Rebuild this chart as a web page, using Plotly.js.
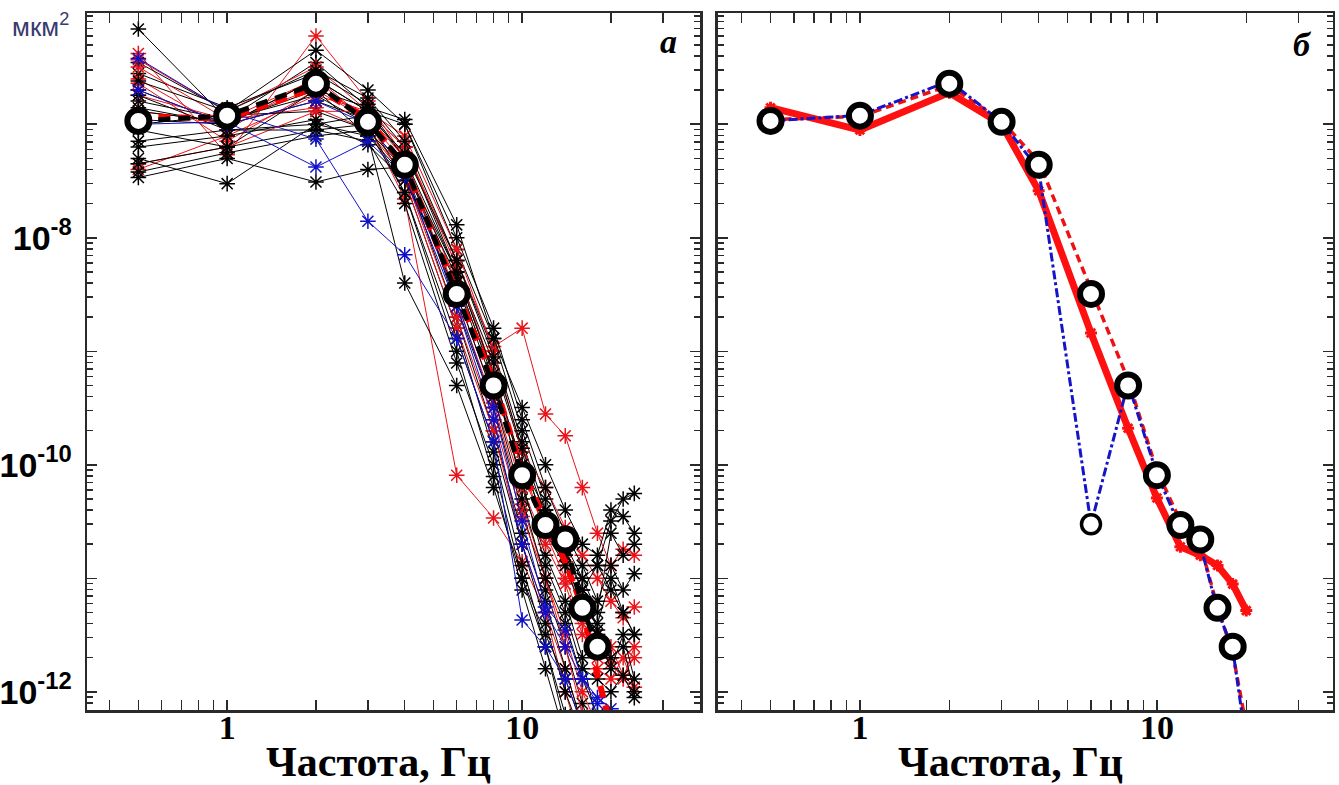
<!DOCTYPE html>
<html>
<head>
<meta charset="utf-8">
<script src="https://cdn.plot.ly/plotly-3.0.1.min.js"></script>
<style>html,body{margin:0;padding:0;background:#fff;}#chart{width:1339px;height:785px;}</style>
</head>
<body>
<div id="chart"></div>
<script>
// Frequencies, Hz
const freq = [0.5, 1, 2, 3, 4, 6, 8, 10, 12, 14, 16, 18, 20, 22, 24];

// Panel "а": individual spectra (мкм²)
const blk01 = [6.9e-7,1.1e-7,3.5e-7,1.4e-7,5.0e-8,5.0e-9,7.9e-10,1.3e-10,2.5e-11,1.3e-11,6.3e-12,4.0e-12,1.0e-11,5.0e-12,3.2e-12];
const blk02 = [3.5e-7,1.3e-7,4.5e-7,2.0e-7,1.0e-7,7.9e-9,1.3e-9,2.0e-10,5.0e-11,1.6e-11,1.0e-11,1.3e-11,3.2e-11,5.0e-11,5.6e-11];
const blk03 = [2.8e-7,1.4e-7,2.8e-7,1.5e-7,6.3e-8,5.0e-9,6.3e-10,6.3e-11,1.6e-11,6.3e-12,2.0e-12,5.0e-13];
const blk04 = [2.0e-7,1.0e-7,2.5e-7,1.3e-7,5.0e-8,2.5e-9,3.2e-10,4.0e-11,7.9e-12,2.5e-12,7.9e-13,3.2e-13];
const blk05 = [1.6e-7,1.1e-7,1.8e-7,1.0e-7,4.0e-8,2.0e-9,2.0e-10,2.5e-11,6.3e-12,1.6e-12,5.0e-13];
const blk06 = [1.4e-7,1.0e-7,1.6e-7,1.1e-7,3.2e-8,1.6e-9,1.3e-10,1.3e-11,2.5e-12,5.0e-13];
const blk07 = [1.0e-7,1.2e-7,1.3e-7,8.9e-8,2.5e-8,1.0e-9,7.9e-11,7.9e-12,1.6e-12,4.0e-13];
const blk08 = [7.1e-8,8.9e-8,1.0e-7,1.2e-7,5.6e-8,6.3e-9,1.0e-9,1.6e-10,4.0e-11,2.0e-11,1.0e-11,5.0e-12,2.5e-11,1.6e-11,2.0e-11];
const blk09 = [6.3e-8,7.9e-8,1.1e-7,6.6e-8,3.2e-8,4.0e-9,5.0e-10,1.0e-10,3.2e-11,1.3e-11,5.0e-12,3.2e-12,1.6e-12,3.2e-12,1.3e-12];
const blk10 = [5.0e-8,3.0e-8,1.0e-7,7.9e-8,3.5e-8,3.2e-9,4.0e-10,5.0e-11,1.0e-11,4.0e-12,1.3e-12,6.3e-13];
const blk11 = [3.4e-8,5.0e-8,3.1e-8,4.0e-8,4.2e-8,5.0e-9,6.3e-10,1.0e-10,4.0e-11,1.6e-11,7.9e-12,1.3e-11,7.9e-12,5.0e-12,3.2e-12];
const blk12 = [4.5e-8,6.3e-8,2.0e-7,1.4e-7,1.1e-7,1.3e-8,1.3e-9,3.2e-10,1.0e-10,4.0e-11,2.0e-11,1.6e-11,4.0e-11,3.5e-11,2.5e-11];
const blk13 = [1.1e-7,1.0e-7,2.5e-7,1.3e-7,1.0e-7,1.0e-8,1.6e-9,2.5e-10,6.3e-11,2.5e-11,1.3e-11,6.3e-12,1.3e-11,7.9e-12,1.1e-11];
const blk14 = [1.3e-7,1.05e-7,2.0e-7,7.9e-8,4.0e-9,5.0e-10,6.3e-11,1.0e-11,2.5e-12,6.3e-13];
const blk15 = [1.8e-7,8.9e-8,8.9e-8,1.0e-7,2.5e-8,1.3e-9,1.6e-10,2.0e-11,4.0e-12,1.0e-12,4.0e-13];
const blk16 = [2.4e-7,1.3e-7,3.0e-7,1.7e-7,7.1e-8,6.3e-9,8.9e-10,1.4e-10,3.5e-11,1.8e-11,7.9e-12,3.5e-12,2.0e-12,2.5e-12,1.0e-12];
const blk17 = [3.8e-8,5.6e-8,7.9e-8,8.9e-8,4.0e-8,4.5e-9,5.6e-10,7.1e-11,1.3e-11,5.0e-12,1.6e-12,1.3e-12,1.0e-12,1.4e-12,8.9e-13];
const blk18 = [8.9e-8,6.3e-8,8.9e-8,7.1e-8,2.0e-8,7.9e-10,1.0e-10,1.0e-11,3.2e-12,1.3e-12,5.0e-13];

const red01 = [4.2e-7,5.4e-8,6.0e-7,1.6e-7,5.0e-8,4.0e-9,6.3e-10,1.0e-10,2.5e-11,1.0e-11,4.0e-12,1.6e-12,1.3e-12,2.0e-12,1.1e-12];
const red02 = [3.7e-7,1.3e-7,3.2e-7,1.3e-7,6.3e-8,6.3e-9,1.1e-9,1.6e-9,2.8e-10,1.8e-10,6.3e-11,2.5e-11,1.3e-11,1.8e-11,1.6e-11];
const red03 = [3.2e-7,1.1e-7,2.5e-7,1.0e-7,2.2e-8,8.1e-11,3.4e-11,1.4e-11,5.0e-12,1.6e-12,5.0e-13];
const red04 = [2.3e-7,7.1e-8,2.0e-7,1.1e-7,4.5e-8,3.2e-9,4.0e-10,6.3e-11,2.0e-11,8.9e-12,3.2e-12,2.0e-12,2.5e-12,1.4e-12,2.0e-12];
const red05 = [1.8e-7,1.1e-7,1.4e-7,8.9e-8,3.5e-8,2.0e-9,2.5e-10,3.5e-11,1.0e-11,3.2e-12,1.0e-12,5.0e-13];
const red06 = [4.0e-8,7.9e-8,1.8e-7,1.3e-7,6.3e-8,5.6e-9,6.3e-10,8.9e-11,2.5e-11,1.4e-11,5.0e-12,3.2e-12,1.8e-12,1.3e-12,2.5e-12];
const red07 = [1.3e-7,1.05e-7,2.1e-7,1.2e-7,5.0e-8,2.8e-9,3.5e-10,4.5e-11,1.0e-11,2.5e-12,6.3e-13];
const red08 = [2.5e-7,8.9e-8,2.6e-7,1.05e-7,3.2e-8,1.6e-9,2.0e-10,2.0e-11,5.0e-12,1.0e-12,3.2e-13];
const red09 = [4.5e-8,6.3e-8,1.3e-7,1.3e-7,7.9e-8,7.9e-9,1.0e-9,1.3e-10,6.3e-11,2.8e-11,1.6e-11,1.0e-11,6.3e-12,4.5e-12,5.6e-12];

const blu01 = [3.8e-7,1.3e-7,7.4e-8,1.4e-8,7.1e-9,1.3e-9,1.6e-10,4.3e-12,2.5e-12,1.3e-12,5.0e-13];
const blu02 = [1.0e-7,1.05e-7,4.2e-8,7.1e-8,3.5e-8,2.5e-9,2.5e-10,2.0e-11,5.0e-12,2.5e-12,1.3e-12,7.9e-13];
const blu03 = [2.0e-7,1.0e-7,1.6e-7,1.0e-7,4.0e-8,2.8e-9,3.2e-10,3.2e-11,5.6e-12,3.5e-12,1.3e-12,8.9e-13,7.1e-13];

// Averages
const meanAll   = [1.07e-7,1.19e-7,2.28e-7,1.05e-7,4.4e-8,3.2e-9,5.0e-10,8.1e-11,2.95e-11,2.2e-11,5.5e-12,2.5e-12];
const meanRed   = [1.17e-7,1.12e-7,2.1e-7,1.12e-7,4.2e-8,3.5e-9,5.6e-10,8.9e-11,3.2e-11,1.4e-11,5.6e-12,1.4e-12,5.0e-13];

// Panel "б"
const bMeanCircles = [1.07e-7,1.19e-7,2.28e-7,1.05e-7,4.4e-8,3.2e-9,5.0e-10,8.1e-11,2.95e-11,2.2e-11,5.5e-12,2.5e-12];
const bBlueDashDot = [1.07e-7,1.2e-7,2.4e-7,1.05e-7,4.0e-8,3.0e-11,5.2e-10,8.3e-11,2.8e-11,2.0e-11,5.2e-12,2.4e-12,3.5e-13];
const bRedDashed   = [1.1e-7,1.17e-7,2.2e-7,1.07e-7,4.7e-8,3.5e-9,5.6e-10,8.9e-11,3.2e-11,2.0e-11,5.6e-12,2.2e-12,5.0e-13];
const bRedThick    = [1.4e-7,8.9e-8,1.9e-7,1.0e-7,2.6e-8,1.45e-9,2.1e-10,5.1e-11,1.9e-11,1.6e-11,1.3e-11,8.9e-12,5.2e-12];

// Tick labels
const xTickVals = [1, 10];
const xTickText = ['1', '10'];
const yTickVals = [1e-12, 1e-10, 1e-8];
const yTickText = ['10<sup>-12</sup>', '10<sup>-10</sup>', '10<sup>-8</sup>'];
const yOddDecades = [1e-11, 1e-9, 1e-7, 1e-6];

const blackSet = [blk01,blk02,blk03,blk04,blk05,blk06,blk07,blk08,blk09,blk10,blk11,blk12,blk13,blk14,blk15,blk16,blk17,blk18];
const redSet = [red01,red02,red03,red04,red05,red06,red07,red08,red09];
const blueSet = [blu01,blu02,blu03];

function thin(ys, color) {
  return {
    x: freq.slice(0, ys.length), y: ys, xaxis: 'x', yaxis: 'y',
    type: 'scatter', mode: 'lines+markers', hoverinfo: 'skip',
    line: {color: color, width: 1},
    marker: {symbol: 'asterisk-open', size: 13, line: {color: color, width: 1.5}, color: color}
  };
}

const traces = [];
blackSet.forEach((s, i) => {
  traces.push(thin(s, '#000000'));
  if (i < redSet.length) traces.push(thin(redSet[i], '#e8141a'));
});
blueSet.forEach(s => traces.push(thin(s, '#1010c8')));

traces.push({
  x: freq.slice(0, meanRed.length), y: meanRed, xaxis: 'x', yaxis: 'y',
  type: 'scatter', mode: 'lines', hoverinfo: 'skip',
  line: {color: '#ff0000', width: 6, dash: '12px,8px'}
});
traces.push({
  x: freq.slice(0, meanAll.length), y: meanAll, xaxis: 'x', yaxis: 'y',
  type: 'scatter', mode: 'lines+markers', hoverinfo: 'skip',
  line: {color: '#000000', width: 5, dash: '12px,8px'},
  marker: {symbol: 'circle', size: 22, color: '#ffffff', line: {color: '#000000', width: 6}}
});

// Panel б
traces.push({
  x: freq.slice(0, bRedThick.length), y: bRedThick, xaxis: 'x2', yaxis: 'y2',
  type: 'scatter', mode: 'lines+markers', hoverinfo: 'skip',
  line: {color: '#ff1010', width: 7},
  marker: {symbol: 'asterisk-open', size: 10, line: {color: '#ff1010', width: 3}}
});
traces.push({
  x: freq.slice(0, bRedDashed.length), y: bRedDashed, xaxis: 'x2', yaxis: 'y2',
  type: 'scatter', mode: 'lines', hoverinfo: 'skip',
  line: {color: '#ee1111', width: 3.5, dash: '8px,5px'}
});
traces.push({
  x: freq.slice(0, bBlueDashDot.length), y: bBlueDashDot, xaxis: 'x2', yaxis: 'y2',
  type: 'scatter', mode: 'lines', hoverinfo: 'skip',
  line: {color: '#1414c8', width: 3, dash: 'dashdot'}
});
traces.push({
  x: [freq[5]], y: [bBlueDashDot[5]], xaxis: 'x2', yaxis: 'y2',
  type: 'scatter', mode: 'markers', hoverinfo: 'skip',
  marker: {symbol: 'circle', size: 19, color: '#ffffff', line: {color: '#000000', width: 3.5}}
});
traces.push({
  x: freq.slice(0, bMeanCircles.length), y: bMeanCircles, xaxis: 'x2', yaxis: 'y2',
  type: 'scatter', mode: 'markers', hoverinfo: 'skip',
  marker: {symbol: 'circle', size: 22, color: '#ffffff', line: {color: '#000000', width: 6}}
});

// minor tick positions
const xMinor = [];
[0.1, 1, 10].forEach(d => { for (let k = 2; k <= 9; k++) xMinor.push(k * d); });
const yMinor = [];
for (let e = -13; e <= -6; e++) { for (let k = 2; k <= 9; k++) yMinor.push(k * Math.pow(10, e)); }

const axLine = '#2a2a2a';
const yDomain = [0.0955, 0.9834];
const yRange = [-12.16, -6.02];
function xAxis(domain, range, anchor) {
  return {
    type: 'log', domain: domain, range: range, anchor: anchor, showgrid: false, zeroline: false,
    showline: true, linecolor: axLine, linewidth: 2.5, mirror: 'allticks',
    ticks: 'inside', ticklen: 10, tickwidth: 1.6, tickcolor: axLine,
    tickmode: 'array', tickvals: xTickVals, ticktext: xTickText,
    tickfont: {family: 'Liberation Serif, serif', size: 34, color: '#000', weight: 'bold'},
    ticklabelstandoff: -14,
    minor: {tickmode: 'array', tickvals: xMinor, ticks: 'inside', ticklen: 6, tickwidth: 1.4, tickcolor: axLine},
    automargin: false, fixedrange: true
  };
}
function yAxis(anchor, showLabels) {
  return {
    type: 'log', domain: yDomain, range: yRange, anchor: anchor,
    showgrid: false, zeroline: false, showline: true, linecolor: axLine, linewidth: 2.5, mirror: 'allticks',
    ticks: 'inside', ticklen: 10, tickwidth: 1.6, tickcolor: axLine,
    tickmode: 'array', tickvals: yTickVals, ticktext: yTickText, showticklabels: showLabels,
    tickfont: {family: 'Liberation Sans, Arial, sans-serif', size: 34, color: '#000', weight: 'bold'},
    ticklabelstandoff: 6,
    minor: {tickmode: 'array', tickvals: yMinor, ticks: 'inside', ticklen: 6, tickwidth: 1.4, tickcolor: axLine},
    automargin: false, fixedrange: true
  };
}
function yDecadeAxis(overlay, anchor) {
  return {
    type: 'log', domain: yDomain, range: yRange, overlaying: overlay, anchor: anchor,
    showgrid: false, zeroline: false, showline: false, mirror: 'allticks',
    ticks: 'inside', ticklen: 10, tickwidth: 1.6, tickcolor: axLine,
    tickmode: 'array', tickvals: yOddDecades, showticklabels: false,
    automargin: false, fixedrange: true
  };
}

const serifBold = {family: 'Liberation Serif, serif', size: 42, color: '#000', weight: 'bold'};
const layout = {
  width: 1339, height: 785,
  margin: {l: 0, r: 0, t: 0, b: 0},
  paper_bgcolor: '#ffffff', plot_bgcolor: '#ffffff',
  showlegend: false,
  xaxis: xAxis([0.065, 0.5228], [-0.475, 1.603], 'y'),
  yaxis: yAxis('x', true),
  xaxis2: xAxis([0.5362, 0.9955], [-0.478, 1.593], 'y2'),
  yaxis2: yAxis('x2', false),
  yaxis3: yDecadeAxis('y', 'x'),
  yaxis4: yDecadeAxis('y2', 'x2'),
  annotations: [
    {xref: 'paper', yref: 'paper', x: 40 / 1339, y: 1 - 26 / 785, text: 'мкм<sup>2</sup>', showarrow: false,
     font: {family: 'Liberation Sans, Arial, sans-serif', size: 26, color: '#3a3a6e'}, xanchor: 'center', yanchor: 'middle'},
    {xref: 'paper', yref: 'paper', x: 668 / 1339, y: 1 - 42 / 785, text: '<i>а</i>', showarrow: false,
     font: {family: 'Liberation Serif, serif', size: 34, color: '#000', weight: 'bold'}, xanchor: 'center', yanchor: 'middle'},
    {xref: 'paper', yref: 'paper', x: 1302 / 1339, y: 1 - 45 / 785, text: '<i>б</i>', showarrow: false,
     font: {family: 'Liberation Serif, serif', size: 34, color: '#000', weight: 'bold'}, xanchor: 'center', yanchor: 'middle'},
    {xref: 'paper', yref: 'paper', x: 378 / 1339, y: 1 - 762 / 785, text: 'Частота, Гц', showarrow: false,
     font: serifBold, xanchor: 'center', yanchor: 'middle'},
    {xref: 'paper', yref: 'paper', x: 1011 / 1339, y: 1 - 762 / 785, text: 'Частота, Гц', showarrow: false,
     font: serifBold, xanchor: 'center', yanchor: 'middle'}
  ]
};

traces.push({x: [1], y: [1e-9], xaxis: 'x', yaxis: 'y3', type: 'scatter', mode: 'markers', marker: {opacity: 0}, hoverinfo: 'skip'});
traces.push({x: [1], y: [1e-9], xaxis: 'x2', yaxis: 'y4', type: 'scatter', mode: 'markers', marker: {opacity: 0}, hoverinfo: 'skip'});

Plotly.newPlot('chart', traces, layout, {staticPlot: true, displayModeBar: false});
</script>
</body>
</html>
